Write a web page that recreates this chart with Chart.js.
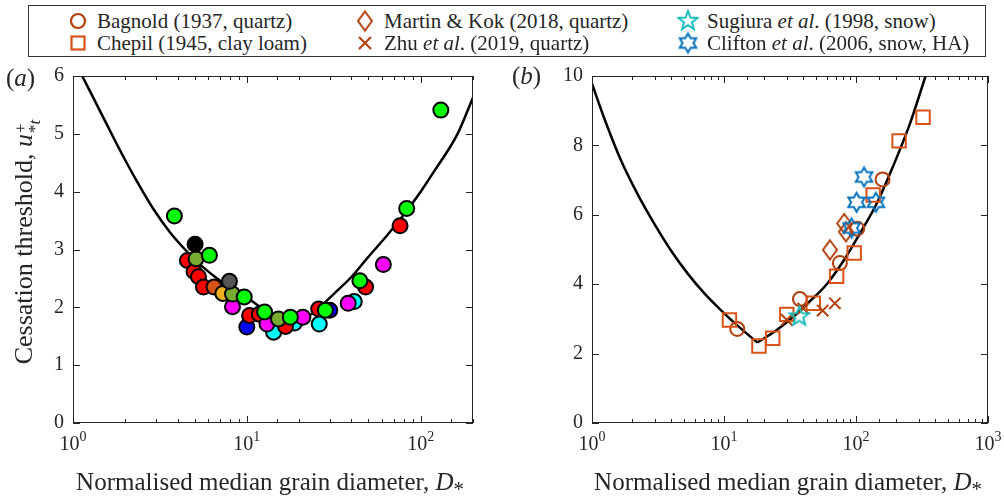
<!DOCTYPE html>
<html>
<head>
<meta charset="utf-8">
<script src="https://cdn.jsdelivr.net/npm/chart.js@4.4.1/dist/chart.umd.min.js"></script>
<style>
  body { margin: 0; background: #fff; }
  #wrap { position: relative; width: 1004px; height: 503px; overflow: hidden;
          font-family: "Liberation Serif", "Times New Roman", serif; color: #262626; }
  #wrap > canvas { position: absolute; }
  #legendBox { position: absolute; left: 28px; top: 5px; width: 958px; height: 52px;
               border: 1px solid #333; box-sizing: border-box; }
  .item { position: absolute; font-size: 21px; line-height: 22px; white-space: nowrap; }
  .item canvas { position: absolute; left: -30px; top: -1px; }
  .plabel { position: absolute; font-size: 25px; }
  .xtitle { position: absolute; font-size: 25px; white-space: nowrap; transform: translateX(-50%); }
  .ytitle { position: absolute; font-size: 26px; white-space: nowrap;
            transform: translate(-50%, -50%) rotate(-90deg); }
  .stack { display: inline-block; vertical-align: -0.45em; line-height: 0.8em; font-size: 17px; margin-left: 1px; }
  .stack span { display: block; }
</style>
</head>
<body>
<div id="wrap">
  <div id="legendBox"></div>
  <div class="item" style="left:97px;top:10px"><canvas id="lg0" width="22" height="24"></canvas>Bagnold (1937, quartz)</div>
  <div class="item" style="left:97px;top:32px"><canvas id="lg1" width="22" height="24"></canvas>Chepil (1945, clay loam)</div>
  <div class="item" style="left:384px;top:10px"><canvas id="lg2" width="22" height="24"></canvas>Martin &amp; Kok (2018, quartz)</div>
  <div class="item" style="left:384px;top:32px"><canvas id="lg3" width="22" height="24"></canvas>Zhu <i>et al</i>. (2019, quartz)</div>
  <div class="item" style="left:707px;top:10px"><canvas id="lg4" width="22" height="24"></canvas>Sugiura <i>et al</i>. (1998, snow)</div>
  <div class="item" style="left:707px;top:32px"><canvas id="lg5" width="22" height="24"></canvas>Clifton <i>et al</i>. (2006, snow, HA)</div>

  <canvas id="chartA" width="490" height="448" style="left:0;top:55px"></canvas>
  <canvas id="chartB" width="499" height="448" style="left:505px;top:55px"></canvas>

  <div class="plabel" style="left:6px;top:64px">(<i>a</i>)</div>
  <div class="plabel" style="left:512px;top:62px">(<i>b</i>)</div>

  <div class="ytitle" style="left:25px;top:242px">Cessation threshold, <i>u</i><span class="stack"><span>+</span><span>*<i>t</i></span></span></div>
  <div class="xtitle" style="left:270px;top:468px">Normalised median grain diameter, <i>D</i><sub>*</sub></div>
  <div class="xtitle" style="left:788px;top:468px">Normalised median grain diameter, <i>D</i><sub>*</sub></div>
</div>

<script>
// ---- panel (a): compiled cessation thresholds, grouped by marker colour ----
const redD = [4.55, 4.97, 5.27, 5.63, 10.37, 11.8, 16.7, 25.9, 48.2, 76.1];
const redU = [2.81, 2.62, 2.53, 2.35, 1.86, 1.88, 1.67, 1.97, 2.35, 3.41];
const greenD = [3.83, 6.09, 9.66, 12.65, 17.8, 28.3, 44.7, 83.1, 130.6];
const greenU = [3.58, 2.90, 2.18, 1.92, 1.83, 1.95, 2.46, 3.71, 5.41];
const magentaD = [8.27, 13.06, 21.0, 38.3, 61.0];
const magentaU = [2.01, 1.71, 1.83, 2.07, 2.74];
const cyanD = [14.26, 18.8, 26.1, 41.5];
const cyanU = [1.57, 1.73, 1.71, 2.10];
const blueD = [10.0, 30.0];
const blueU = [1.66, 1.95];
const blackD = [5.04];
const blackU = [3.09];
const oliveD = [5.10, 8.27, 15.2];
const oliveU = [2.84, 2.23, 1.80];
const orangeD = [6.48];
const orangeU = [2.35];
const goldD = [7.28];
const goldU = [2.24];
const greyD = [7.94];
const greyU = [2.45];

// model curve (a)
const curveAD = [1.13, 1.49, 1.86, 2.32, 2.90, 3.61, 4.51, 5.62, 7.03, 8.77, 10, 11.5, 13.2, 15.1, 17.4, 20.0, 22.9, 26.3, 31.6, 39.8, 49.3, 63.1, 76.7, 100, 119.4, 163, 200];
const curveAU = [6.0, 5.29, 4.72, 4.19, 3.70, 3.30, 2.97, 2.69, 2.46, 2.28, 2.17, 2.04, 1.93, 1.85, 1.80, 1.80, 1.86, 2.00, 2.23, 2.52, 2.85, 3.22, 3.53, 4.0, 4.35, 5.00, 5.63];

// ---- panel (b): wind-tunnel data sets ----
const bagnoldD = [12.6, 37.6, 75.5, 102, 159];
const bagnoldU = [2.71, 3.57, 4.61, 5.60, 7.02];
const chepilD = [11.0, 18.4, 23.4, 29.9, 47.5, 71.3, 96.9, 135, 212, 322];
const chepilU = [2.97, 2.22, 2.44, 3.13, 3.45, 4.23, 4.90, 6.57, 8.13, 8.81];
const martinD = [63.5, 81.4, 83.9];
const martinU = [4.99, 5.75, 5.51];
const zhuD = [29.9, 39.9, 55.9, 69.2];
const zhuU = [2.97, 3.30, 3.24, 3.45];
const sugiuraD = [37.2];
const sugiuraU = [3.07];
const cliftonD = [92.6, 101, 115, 141.5];
const cliftonU = [5.62, 6.36, 7.09, 6.36];

// model curve (b), two branches meeting at the kink
const curveBLeftD = [1, 1.25, 1.67, 2.24, 3.0, 4.0, 5.35, 7.16, 9.55, 12.8, 17.9];
const curveBLeftU = [9.78, 8.74, 7.54, 6.56, 5.71, 4.95, 4.29, 3.72, 3.24, 2.79, 2.32];
const curveBRightD = [17.9, 25.1, 33.5, 44.8, 60, 80, 107, 143, 191, 256, 336];
const curveBRightU = [2.32, 2.68, 3.06, 3.51, 4.00, 4.66, 5.46, 6.31, 7.40, 8.62, 9.99];

const xTickA = [1, 10, 100];
const xTickB = [1, 10, 100, 1000];

const BROWN = '#b0400c';
const ORANGE = '#d95319';
const TEAL = '#19bdbd';
const BLUE = '#0072bd';
const SERIF = '"Liberation Serif", "Times New Roman", serif';

function pts(xs, ys) { return xs.map((x, i) => ({ x: x, y: ys[i] })); }

function polyMarker(n, inner, R, color, lw) {
  const s = Math.ceil(2 * R + lw * 2 + 4);
  const c = document.createElement('canvas');
  c.width = s; c.height = s;
  const g = c.getContext('2d');
  g.strokeStyle = color; g.lineWidth = lw; g.lineJoin = 'miter';
  g.beginPath();
  for (let i = 0; i < 2 * n; i++) {
    const r = i % 2 ? R * inner : R;
    const a = -Math.PI / 2 + i * Math.PI / n;
    g.lineTo(s / 2 + r * Math.cos(a), s / 2 + r * Math.sin(a));
  }
  g.closePath();
  g.stroke();
  return c;
}
function diamondMarker(hw, hh, color, lw) {
  const w = Math.ceil(2 * hw + lw * 2 + 2), h = Math.ceil(2 * hh + lw * 2 + 2);
  const c = document.createElement('canvas');
  c.width = w; c.height = h;
  const g = c.getContext('2d');
  g.strokeStyle = color; g.lineWidth = lw;
  g.beginPath();
  g.moveTo(w / 2, h / 2 - hh); g.lineTo(w / 2 + hw, h / 2);
  g.lineTo(w / 2, h / 2 + hh); g.lineTo(w / 2 - hw, h / 2);
  g.closePath(); g.stroke();
  return c;
}

const pentagram = polyMarker(5, 0.42, 10, TEAL, 2);
const hexagram = polyMarker(6, 0.577, 9.5, BLUE, 2);
const diamond = diamondMarker(7, 9.5, BROWN, 2);

// inward tick marks, full box and 10^n labels, Matlab style
const boxTicks = {
  id: 'boxTicks',
  afterDraw(chart, args, opts) {
    const ctx = chart.ctx, a = chart.chartArea, x = chart.scales.x, y = chart.scales.y;
    ctx.save();
    ctx.strokeStyle = '#262626';
    ctx.lineWidth = 1;
    ctx.beginPath();
    x.ticks.forEach(t => {
      const px = Math.round(x.getPixelForValue(t.value)) + 0.5;
      const e = Math.log10(t.value);
      const len = Math.abs(e - Math.round(e)) < 1e-6 ? 7 : 4;
      ctx.moveTo(px, a.bottom); ctx.lineTo(px, a.bottom - len);
      ctx.moveTo(px, a.top); ctx.lineTo(px, a.top + len);
    });
    y.ticks.forEach(t => {
      const py = Math.round(y.getPixelForValue(t.value)) + 0.5;
      ctx.moveTo(a.left, py); ctx.lineTo(a.left + 7, py);
      ctx.moveTo(a.right, py); ctx.lineTo(a.right - 7, py);
    });
    ctx.stroke();
    ctx.strokeRect(a.left + 0.5, a.top + 0.5, a.right - a.left - 1, a.bottom - a.top - 1);

    // decade labels: "10" with a raised exponent
    ctx.fillStyle = '#262626';
    ctx.textBaseline = 'alphabetic';
    ctx.textAlign = 'left';
    (opts.labels || []).forEach(v => {
      const px = x.getPixelForValue(v);
      const base = '10', exp = String(Math.round(Math.log10(v)));
      ctx.font = '20px ' + SERIF;
      const wb = ctx.measureText(base).width;
      ctx.font = '14px ' + SERIF;
      const we = ctx.measureText(exp).width;
      const x0 = px - (wb + we) / 2;
      ctx.font = '20px ' + SERIF;
      ctx.fillText(base, x0, a.bottom + 27);
      ctx.font = '14px ' + SERIF;
      ctx.fillText(exp, x0 + wb, a.bottom + 18);
    });
    ctx.restore();
  }
};

function makeScales(xmax, ymax, ystep, yWidth) {
  const font = { family: SERIF, size: 20 };
  return {
    x: {
      type: 'logarithmic', min: 1, max: xmax,
      grid: { display: false, drawTicks: false }, border: { display: false },
      ticks: { display: false, autoSkip: false },
      afterFit: s => { s.height = 80; }
    },
    y: {
      min: 0, max: ymax,
      grid: { display: false, drawTicks: false }, border: { display: false },
      ticks: { stepSize: ystep, padding: 9, color: '#262626', font: font },
      afterFit: s => { s.width = yWidth; }
    }
  };
}

function dot(data, color, order) {
  return { data: data, pointStyle: 'circle', pointRadius: 7.5, pointBorderWidth: 2,
           backgroundColor: color, borderColor: '#000', order: order };
}

function baseOptions(labels, padRight, scales) {
  return {
    responsive: false, maintainAspectRatio: false, animation: false, devicePixelRatio: 1,
    events: [],
    layout: { padding: { top: 15, right: padRight, left: 0, bottom: 0 } },
    plugins: { legend: { display: false }, tooltip: { enabled: false }, boxTicks: { labels: labels } },
    scales: scales
  };
}

new Chart(document.getElementById('chartA'), {
  type: 'scatter',
  data: {
    datasets: [
      { data: pts(curveAD, curveAU), showLine: true, borderColor: '#000', borderWidth: 2.5,
        pointRadius: 0, cubicInterpolationMode: 'monotone', order: 20 },
      dot(pts(blueD, blueU), '#0000ff', 11),
      dot(pts(cyanD, cyanU), '#00ffff', 10),
      dot(pts(redD, redU), '#ff0000', 9),
      dot(pts(magentaD, magentaU), '#ff00ff', 8),
      dot(pts(orangeD, orangeU), '#d95319', 7),
      dot(pts(goldD, goldU), '#edb120', 6),
      dot(pts(oliveD, oliveU), '#77ac30', 5),
      dot(pts(greyD, greyU), '#555555', 4),
      dot(pts(blackD, blackU), '#000000', 3),
      dot(pts(greenD, greenU), '#00ff00', 2)
    ]
  },
  options: baseOptions(xTickA, 17, makeScales(200, 6, 1, 73)),
  plugins: [boxTicks]
});

new Chart(document.getElementById('chartB'), {
  type: 'scatter',
  data: {
    datasets: [
      { data: pts(curveBLeftD, curveBLeftU), showLine: true, borderColor: '#000', borderWidth: 2.5,
        pointRadius: 0, cubicInterpolationMode: 'monotone', order: 20 },
      { data: pts(curveBRightD, curveBRightU), showLine: true, borderColor: '#000', borderWidth: 2.5,
        pointRadius: 0, cubicInterpolationMode: 'monotone', order: 20 },
      { data: pts(bagnoldD, bagnoldU), pointStyle: 'circle', pointRadius: 7, pointBorderWidth: 2,
        backgroundColor: 'rgba(0,0,0,0)', borderColor: BROWN, order: 7 },
      { data: pts(chepilD, chepilU), pointStyle: 'rect', pointRadius: 9.5, pointBorderWidth: 2,
        backgroundColor: 'rgba(0,0,0,0)', borderColor: ORANGE, order: 6 },
      { data: pts(martinD, martinU), pointStyle: diamond, pointRadius: 8, order: 5 },
      { data: pts(zhuD, zhuU), pointStyle: 'crossRot', pointRadius: 8, pointBorderWidth: 2,
        borderColor: BROWN, order: 4 },
      { data: pts(sugiuraD, sugiuraU), pointStyle: pentagram, pointRadius: 8, order: 3 },
      { data: pts(cliftonD, cliftonU), pointStyle: hexagram, pointRadius: 8, order: 2 }
    ]
  },
  options: baseOptions(xTickB, 16, makeScales(1000, 10, 2, 87)),
  plugins: [boxTicks]
});

// legend symbols
function legendIcon(id, draw) {
  const g = document.getElementById(id).getContext('2d');
  draw(g, 11, 12);
}
legendIcon('lg0', (g, x, y) => {
  g.strokeStyle = BROWN; g.lineWidth = 2.2;
  g.beginPath(); g.arc(x, y, 7, 0, Math.PI * 2); g.stroke();
});
legendIcon('lg1', (g, x, y) => {
  g.strokeStyle = ORANGE; g.lineWidth = 2.2;
  g.strokeRect(x - 6.5, y - 6.5, 13, 13);
});
legendIcon('lg2', (g, x, y) => { g.drawImage(diamond, x - diamond.width / 2, y - diamond.height / 2); });
legendIcon('lg3', (g, x, y) => {
  g.strokeStyle = BROWN; g.lineWidth = 2.2;
  g.beginPath(); g.moveTo(x - 6, y - 6); g.lineTo(x + 6, y + 6);
  g.moveTo(x + 6, y - 6); g.lineTo(x - 6, y + 6); g.stroke();
});
legendIcon('lg4', (g, x, y) => { g.drawImage(pentagram, x - pentagram.width / 2, y - pentagram.height / 2); });
legendIcon('lg5', (g, x, y) => { g.drawImage(hexagram, x - hexagram.width / 2, y - hexagram.height / 2); });
</script>
</body>
</html>
